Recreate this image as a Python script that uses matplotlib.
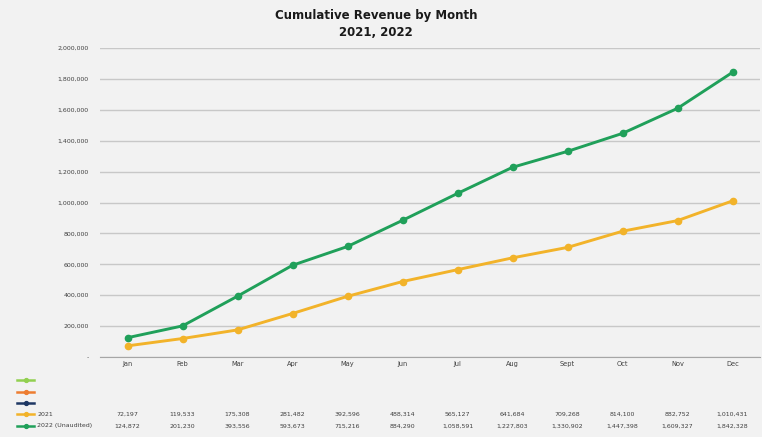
import numpy as np
import matplotlib.pyplot as plt
import matplotlib.transforms as mtransforms

months = ['Jan', 'Feb', 'Mar', 'Apr', 'May', 'Jun', 'Jul', 'Aug', 'Sept', 'Oct', 'Nov', 'Dec']
rev_2021 = [72197, 119533, 175308, 281482, 392596, 488314, 565127, 641684, 709268, 814100, 882752, 1010431]
rev_2022 = [124872, 201230, 393556, 593673, 715216, 884290, 1058591, 1227803, 1330902, 1447398, 1609327, 1842328]
y_ticks = [0, 200000, 400000, 600000, 800000, 1000000, 1200000, 1400000, 1600000, 1800000, 2000000]

# colours of the series (first three rows of the table are empty)
c_lgreen = '#92d050'
c_orange = '#ed7d31'
c_navy = '#1f3864'
c_2021 = '#f2b32a'
c_2022 = '#20a05a'
bg = '#f2f2f2'

plt.rcParams['font.family'] = ['DejaVu Sans']

W, H = 762, 437
fig = plt.figure(figsize=(W / 100, H / 100), dpi=100, facecolor=bg)
ax = fig.add_axes([100 / W, 1 - 357 / H, 660 / W, (357 - 48) / H], facecolor=bg)

x = np.arange(len(months))
ax.plot(x, rev_2022, color=c_2022, lw=2.1, marker='o', ms=4.5, zorder=3)
ax.plot(x, rev_2021, color=c_2021, lw=2.1, marker='o', ms=4.5, zorder=3)

ax.set_xlim(-0.5, len(months) - 0.5)
ax.set_ylim(0, 2000000)
ax.set_yticks(y_ticks)
ax.set_yticklabels(['-'] + [f'{v:,}' for v in y_ticks[1:]], fontsize=4.5, color='#404040')
ax.set_xticks(x)
ax.set_xticklabels(months, fontsize=4.8, color='#404040')
ax.tick_params(length=0, pad=8)
ax.tick_params(axis='x', pad=3)
ax.grid(axis='y', color='#c8c8c8', lw=1.0)
ax.set_axisbelow(True)
for s in ['top', 'right', 'left']:
    ax.spines[s].set_visible(False)
ax.spines['bottom'].set_color('#a6a6a6')

# title
fig.text(376 / W, 1 - 16 / H, 'Cumulative Revenue by Month', ha='center', va='center',
         fontsize=8.5, fontweight='bold', color='#1a1a1a')
fig.text(376 / W, 1 - 33 / H, '2021, 2022', ha='center', va='center',
         fontsize=8.5, fontweight='bold', color='#1a1a1a')

# data table under the chart
tr = mtransforms.blended_transform_factory(ax.transData, fig.transFigure)
rows = [
    (c_lgreen, '', None),
    (c_orange, '', None),
    (c_navy, '', None),
    (c_2021, '2021', rev_2021),
    (c_2022, '2022 (Unaudited)', rev_2022),
]
row_y = [380, 392, 403, 414, 426]
for (col, label, vals), yp in zip(rows, row_y):
    yf = 1 - yp / H
    fig.add_artist(plt.Line2D([17 / W, 25.5 / W, 34 / W], [yf, yf, yf], color=col, lw=1.8,
                              marker='o', ms=2.8, markevery=[1], transform=fig.transFigure))
    if label:
        fig.text(37 / W, yf, label, ha='left', va='center', fontsize=4.5, color='#404040')
    if vals is not None:
        for xi, v in zip(x, vals):
            ax.text(xi, yf, f'{v:,}', transform=tr, ha='center', va='center',
                    fontsize=4.5, color='#404040')

fig.savefig('out.png', dpi=100, facecolor=bg)
